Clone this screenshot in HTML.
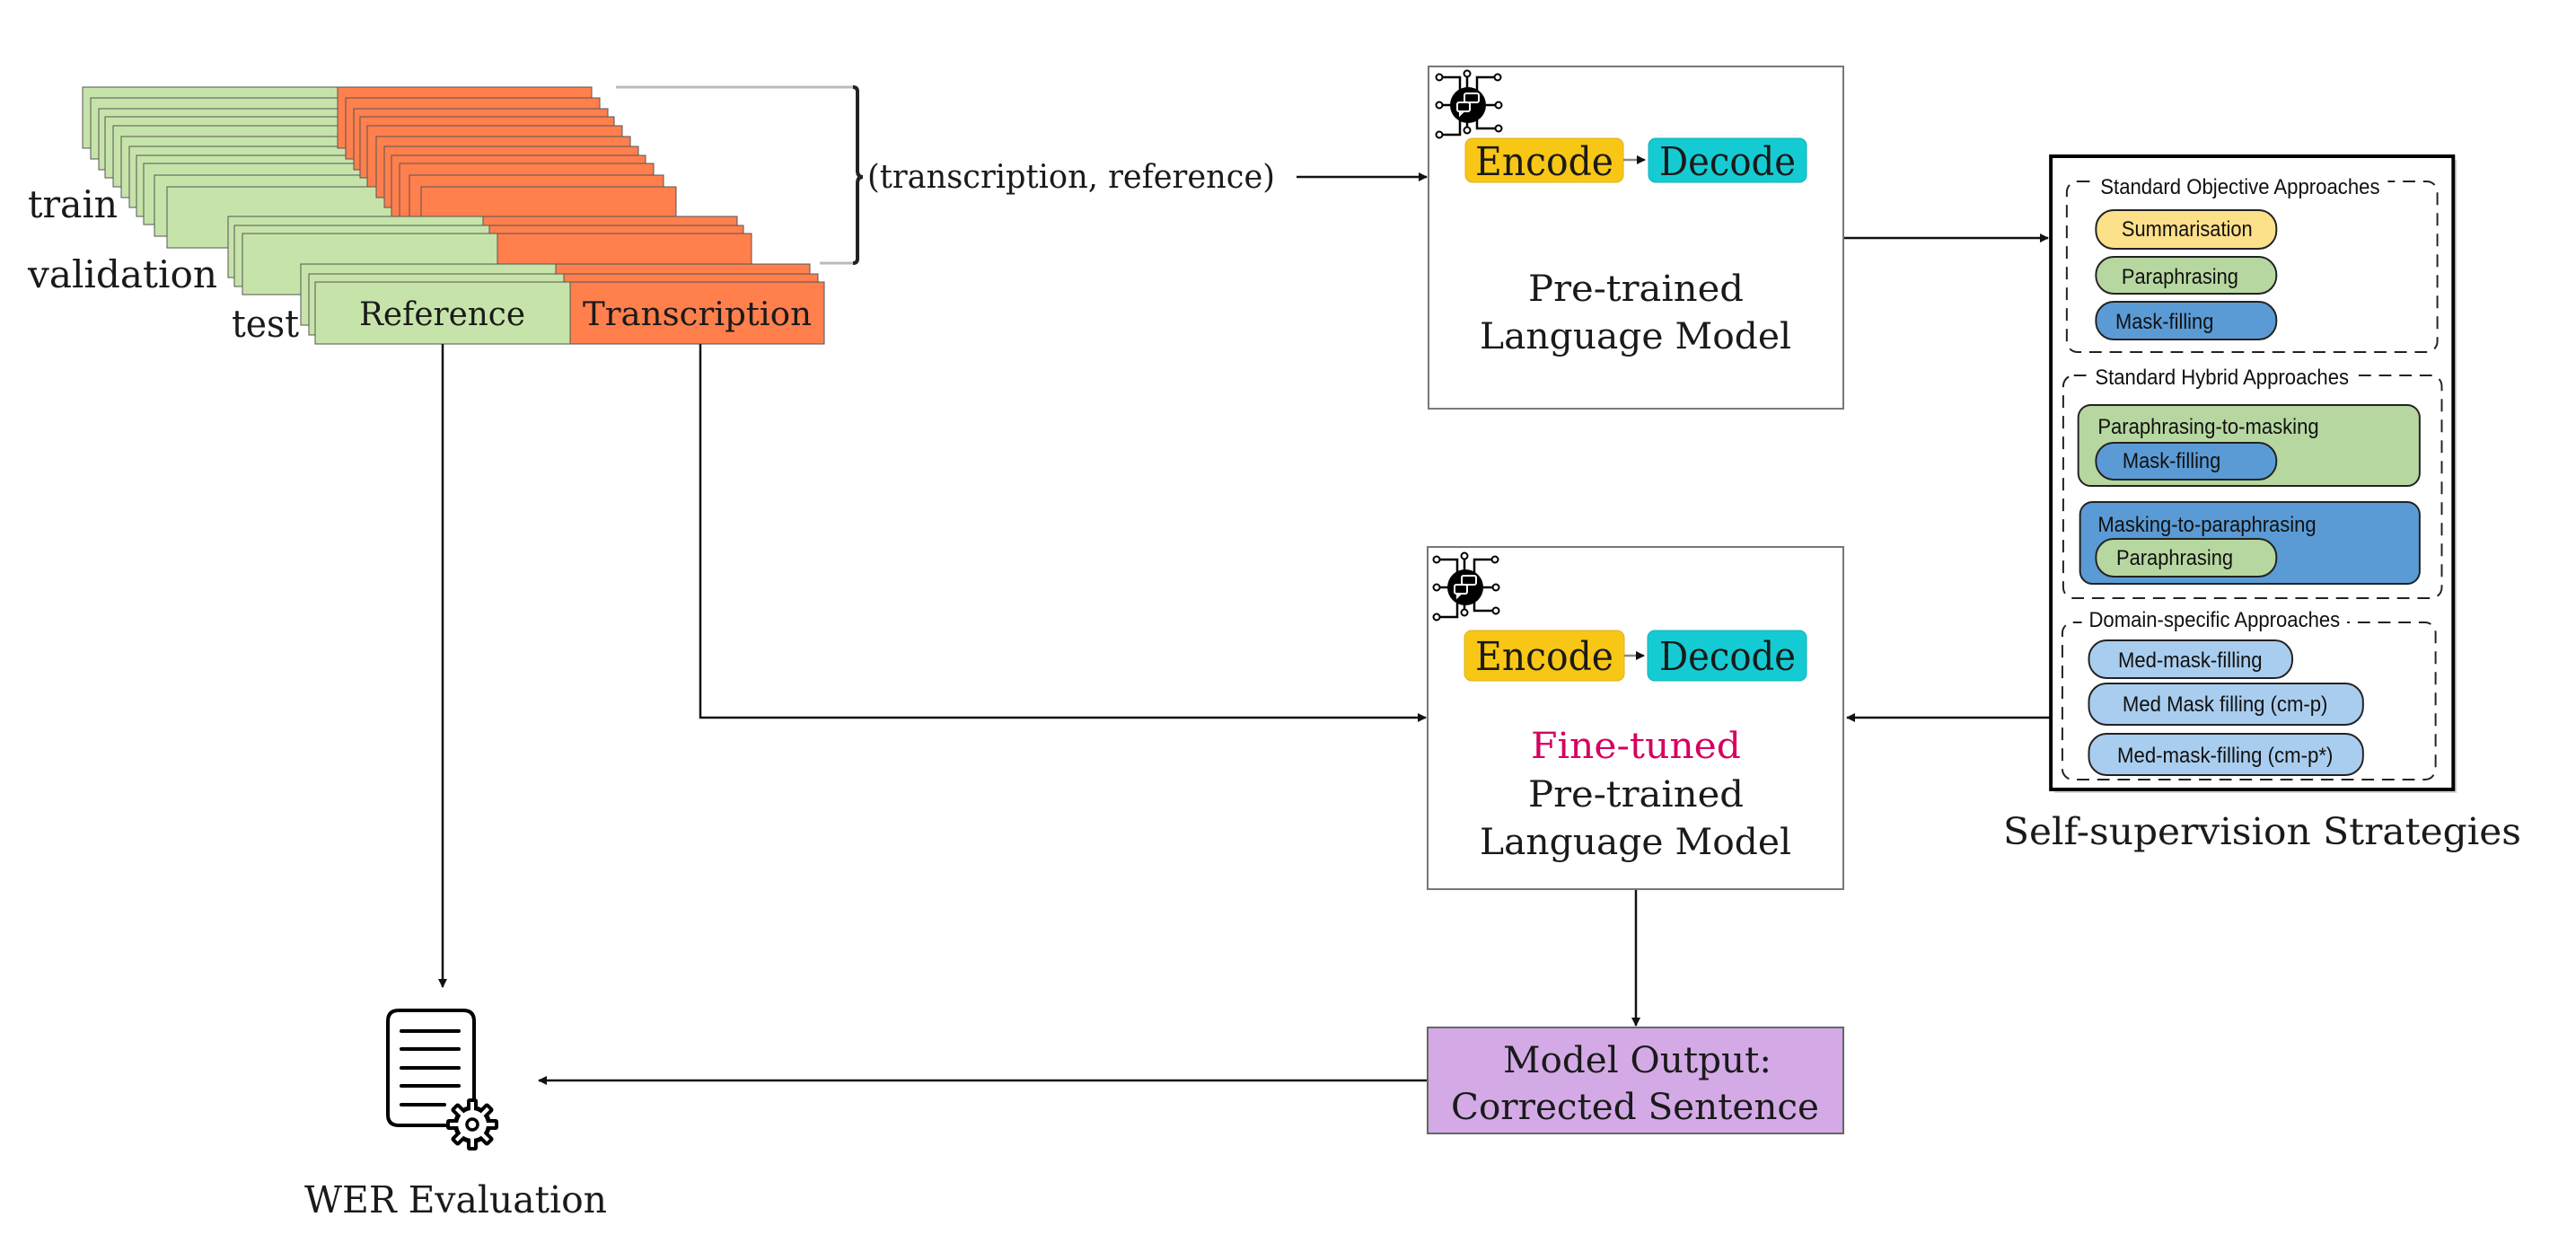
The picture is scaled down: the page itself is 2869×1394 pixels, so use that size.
<!DOCTYPE html>
<html><head><meta charset="utf-8"><style>html,body{margin:0;padding:0;background:#fff}svg{display:block}</style></head>
<body>
<svg width="2869" height="1394" viewBox="0 0 2869 1394" xmlns="http://www.w3.org/2000/svg">
<defs>
<marker id="ah" markerWidth="10" markerHeight="10" refX="9" refY="5" orient="auto" markerUnits="userSpaceOnUse"><path d="M0,0 L10,5 L0,10 z" fill="#111"/></marker>
<g id="icon">
 <g fill="none" stroke="#000" stroke-width="2.5">
  <path d="M1603,86 H1626 V105"/><path d="M1634,82 V100"/><path d="M1668,86 H1645 V105"/>
  <path d="M1603,117 H1616"/><path d="M1669,117 H1655"/>
  <path d="M1603,150 H1626 V130"/><path d="M1634,145 V135"/><path d="M1669,143 H1645 V130"/>
 </g>
 <g fill="#fff" stroke="#000" stroke-width="2">
  <circle cx="1603" cy="86" r="3.5"/><circle cx="1634" cy="82" r="3.5"/><circle cx="1668" cy="86" r="3.5"/>
  <circle cx="1603" cy="117" r="3.5"/><circle cx="1669" cy="117" r="3.5"/>
  <circle cx="1603" cy="150" r="3.5"/><circle cx="1634" cy="145" r="3.5"/><circle cx="1669" cy="143" r="3.5"/>
 </g>
 <circle cx="1635" cy="117" r="20" fill="#000"/>
 <g fill="none" stroke="#fff" stroke-width="2">
  <rect x="1631" y="104" width="16" height="10" rx="2"/><rect x="1623" y="114" width="14" height="10" rx="2"/>
  <path d="M1626,124 l0,4 l4,-4"/>
 </g>
</g>
</defs>

<!-- data stacks -->
<g stroke="#555" stroke-width="1" fill="#c6e4a9">
<rect x="92" y="97" width="284" height="68"/><rect x="101" y="109" width="284" height="68"/><rect x="110" y="121" width="284" height="68"/><rect x="117" y="130" width="284" height="68"/><rect x="126" y="140" width="284" height="68"/><rect x="135" y="152" width="284" height="68"/><rect x="144" y="163" width="284" height="68"/><rect x="152" y="173" width="284" height="68"/><rect x="160" y="182" width="284" height="68"/><rect x="172" y="195" width="284" height="68"/><rect x="186" y="208" width="284" height="68"/>
</g>
<g stroke="#555" stroke-width="1" fill="#ff7f4d">
<rect x="376" y="97" width="283" height="68"/><rect x="385" y="109" width="283" height="68"/><rect x="394" y="121" width="283" height="68"/><rect x="401" y="130" width="283" height="68"/><rect x="409" y="140" width="284" height="68"/><rect x="419" y="152" width="283" height="68"/><rect x="428" y="163" width="283" height="68"/><rect x="436" y="173" width="283" height="68"/><rect x="445" y="182" width="283" height="68"/><rect x="456" y="195" width="283" height="68"/><rect x="469" y="208" width="284" height="68"/>
</g>
<g stroke="#555" stroke-width="1">
<rect x="254" y="241" width="284" height="68" fill="#c6e4a9"/><rect x="538" y="241" width="283" height="68" fill="#ff7f4d"/>
<rect x="261" y="251" width="284" height="68" fill="#c6e4a9"/><rect x="545" y="251" width="283" height="68" fill="#ff7f4d"/>
<rect x="270" y="260" width="284" height="68" fill="#c6e4a9"/><rect x="554" y="260" width="283" height="68" fill="#ff7f4d"/>
<rect x="335" y="294" width="284" height="68" fill="#c6e4a9"/><rect x="619" y="294" width="283" height="68" fill="#ff7f4d"/>
<rect x="344" y="305" width="284" height="68" fill="#c6e4a9"/><rect x="628" y="305" width="283" height="68" fill="#ff7f4d"/>
<rect x="351" y="314" width="284" height="69" fill="#c6e4a9"/><rect x="635" y="314" width="283" height="69" fill="#ff7f4d"/>
</g>

<g font-family="DejaVu Serif, Liberation Serif, serif" fill="#1a1a1a">
<text x="31" y="242" font-size="42" textLength="100" lengthAdjust="spacingAndGlyphs">train</text>
<text x="31" y="320" font-size="42" textLength="211" lengthAdjust="spacingAndGlyphs">validation</text>
<text x="258" y="375" font-size="42" textLength="75" lengthAdjust="spacingAndGlyphs">test</text>
<text x="400" y="362" font-size="36" textLength="185" lengthAdjust="spacingAndGlyphs">Reference</text>
<text x="649" y="362" font-size="36" textLength="255" lengthAdjust="spacingAndGlyphs">Transcription</text>
<text x="966" y="209" font-size="36" textLength="454" lengthAdjust="spacingAndGlyphs">(transcription, reference)</text>
</g>

<!-- brace -->
<line x1="686" y1="97" x2="950" y2="97" stroke="#bbb" stroke-width="3"/>
<line x1="913" y1="293" x2="950" y2="293" stroke="#bbb" stroke-width="3"/>
<path d="M950,97 Q955,97 955,102 V190 Q955,197 961,197 Q955,197 955,204 V288 Q955,293 950,293" fill="none" stroke="#222" stroke-width="4"/>

<!-- arrows -->
<g stroke="#111" stroke-width="2.5" fill="none">
<line x1="1444" y1="197" x2="1589" y2="197" marker-end="url(#ah)"/>
<line x1="2053" y1="265" x2="2281" y2="265" marker-end="url(#ah)"/>
<path d="M780,383 V799 H1588" marker-end="url(#ah)"/>
<line x1="2284" y1="799" x2="2057" y2="799" marker-end="url(#ah)"/>
<line x1="493" y1="383" x2="493" y2="1099" marker-end="url(#ah)"/>
<line x1="1822" y1="990" x2="1822" y2="1142" marker-end="url(#ah)"/>
<line x1="1590" y1="1203" x2="600" y2="1203" marker-end="url(#ah)"/>
</g>

<!-- pre-trained box -->
<rect x="1591" y="74" width="462" height="381" fill="#fff" stroke="#777" stroke-width="2"/>
<use href="#icon"/>
<rect x="1632" y="154" width="176" height="49" rx="8" fill="#f8c614" stroke="#e0b020"/>
<rect x="1836" y="154" width="176" height="49" rx="8" fill="#15cbd3" stroke="#10b0b8"/>
<line x1="1808" y1="178" x2="1832" y2="178" stroke="#888" stroke-width="2.5" marker-end="url(#ah)"/>
<g font-family="DejaVu Serif, Liberation Serif, serif" fill="#1a1a1a">
<text x="1643" y="195" font-size="44" textLength="154" lengthAdjust="spacingAndGlyphs">Encode</text>
<text x="1848" y="195" font-size="44" textLength="152" lengthAdjust="spacingAndGlyphs">Decode</text>
<text x="1702" y="335" font-size="40" textLength="240" lengthAdjust="spacingAndGlyphs">Pre-trained</text>
<text x="1648" y="388" font-size="40" textLength="347" lengthAdjust="spacingAndGlyphs">Language Model</text>
</g>

<!-- fine-tuned box -->
<rect x="1590" y="609" width="463" height="381" fill="#fff" stroke="#777" stroke-width="2"/>
<use href="#icon" transform="translate(-3,537)"/>
<rect x="1631" y="702" width="178" height="56" rx="8" fill="#f8c614" stroke="#e0b020"/>
<rect x="1835" y="702" width="177" height="56" rx="8" fill="#15cbd3" stroke="#10b0b8"/>
<line x1="1809" y1="730" x2="1831" y2="730" stroke="#888" stroke-width="2.5" marker-end="url(#ah)"/>
<g font-family="DejaVu Serif, Liberation Serif, serif" fill="#1a1a1a">
<text x="1643" y="746" font-size="44" textLength="154" lengthAdjust="spacingAndGlyphs">Encode</text>
<text x="1848" y="746" font-size="44" textLength="152" lengthAdjust="spacingAndGlyphs">Decode</text>
<text x="1705" y="844" font-size="40" textLength="234" lengthAdjust="spacingAndGlyphs" fill="#d6005f">Fine-tuned</text>
<text x="1702" y="898" font-size="40" textLength="240" lengthAdjust="spacingAndGlyphs">Pre-trained</text>
<text x="1648" y="951" font-size="40" textLength="347" lengthAdjust="spacingAndGlyphs">Language Model</text>
</g>

<!-- model output -->
<rect x="1590" y="1144" width="463" height="118" fill="#d3aae6" stroke="#666" stroke-width="2"/>
<g font-family="DejaVu Serif, Liberation Serif, serif" fill="#1a1a1a">
<text x="1674" y="1194" font-size="40" textLength="299" lengthAdjust="spacingAndGlyphs">Model Output:</text>
<text x="1616" y="1246" font-size="40" textLength="410" lengthAdjust="spacingAndGlyphs">Corrected Sentence</text>
<text x="339" y="1350" font-size="41" textLength="337" lengthAdjust="spacingAndGlyphs">WER Evaluation</text>
<text x="2231" y="940" font-size="41" textLength="577" lengthAdjust="spacingAndGlyphs">Self-supervision Strategies</text>
</g>

<!-- WER icon -->
<g fill="none" stroke="#000" stroke-width="4" stroke-linecap="round">
<path d="M505,1253 H444 Q432,1253 432,1241 V1137 Q432,1125 444,1125 H516 Q528,1125 528,1137 V1228"/>
<line x1="447" y1="1148" x2="511" y2="1148"/><line x1="447" y1="1168" x2="511" y2="1168"/><line x1="447" y1="1189" x2="511" y2="1189"/><line x1="447" y1="1209" x2="511" y2="1209"/><line x1="447" y1="1230" x2="495" y2="1230"/>
</g>
<g transform="translate(526,1252)">
 <g fill="#000">
  <circle r="21"/>
  <rect x="-6" y="-29" width="12" height="58" rx="3"/>
  <rect x="-6" y="-29" width="12" height="58" rx="3" transform="rotate(45)"/>
  <rect x="-6" y="-29" width="12" height="58" rx="3" transform="rotate(90)"/>
  <rect x="-6" y="-29" width="12" height="58" rx="3" transform="rotate(135)"/>
 </g>
 <g fill="#fff">
  <circle r="16"/>
  <rect x="-2" y="-25" width="4" height="50"/>
  <rect x="-2" y="-25" width="4" height="50" transform="rotate(45)"/>
  <rect x="-2" y="-25" width="4" height="50" transform="rotate(90)"/>
  <rect x="-2" y="-25" width="4" height="50" transform="rotate(135)"/>
 </g>
 <circle r="6" fill="#fff" stroke="#000" stroke-width="3.5"/>
</g>

<!-- right panel -->
<g transform="translate(2293,0) scale(0.985,1) translate(-2293,0) translate(-9,0)">
<rect x="2297" y="178" width="455" height="705" fill="#bbb" opacity="0.6"/>
<rect x="2293" y="174" width="455" height="705" fill="#fff" stroke="#000" stroke-width="4"/>
<g fill="none" stroke="#222" stroke-width="2" stroke-dasharray="14,9">
<rect x="2311" y="202" width="419" height="190" rx="12"/>
<rect x="2307" y="418" width="428" height="248" rx="12"/>
<rect x="2306" y="693" width="422" height="175" rx="12"/>
</g>
<g fill="#fff">
<rect x="2340" y="198" width="334" height="9"/>
<rect x="2334" y="414" width="305" height="9"/>
<rect x="2328" y="689" width="300" height="9"/>
</g>
<g stroke="#222" stroke-width="2">
<rect x="2344" y="234" width="204" height="43" rx="20" fill="#fde08a"/>
<rect x="2344" y="286" width="204" height="41" rx="20" fill="#b7d7a0"/>
<rect x="2344" y="336" width="204" height="42" rx="20" fill="#5b9bd5"/>
<rect x="2324" y="451" width="386" height="90" rx="14" fill="#b7d7a0"/>
<rect x="2344" y="493" width="204" height="41" rx="20" fill="#5b9bd5"/>
<rect x="2326" y="559" width="384" height="91" rx="14" fill="#5b9bd5"/>
<rect x="2344" y="600" width="204" height="42" rx="20" fill="#b7d7a0"/>
<rect x="2336" y="713" width="230" height="42" rx="20" fill="#a9cdee"/>
<rect x="2336" y="761" width="310" height="46" rx="20" fill="#a9cdee"/>
<rect x="2336" y="817" width="310" height="46" rx="20" fill="#a9cdee"/>
</g>
<g font-family="Liberation Sans, Arial, sans-serif" fill="#111" font-size="24">
<text x="2349" y="216" textLength="316" lengthAdjust="spacingAndGlyphs">Standard Objective Approaches</text>
<text x="2373" y="263" textLength="148" lengthAdjust="spacingAndGlyphs">Summarisation</text>
<text x="2373" y="316" textLength="132" lengthAdjust="spacingAndGlyphs">Paraphrasing</text>
<text x="2366" y="366" textLength="111" lengthAdjust="spacingAndGlyphs">Mask-filling</text>
<text x="2343" y="428" textLength="287" lengthAdjust="spacingAndGlyphs">Standard Hybrid Approaches</text>
<text x="2346" y="483" textLength="250" lengthAdjust="spacingAndGlyphs">Paraphrasing-to-masking</text>
<text x="2374" y="521" textLength="111" lengthAdjust="spacingAndGlyphs">Mask-filling</text>
<text x="2346" y="592" textLength="247" lengthAdjust="spacingAndGlyphs">Masking-to-paraphrasing</text>
<text x="2367" y="629" textLength="132" lengthAdjust="spacingAndGlyphs">Paraphrasing</text>
<text x="2336" y="698" textLength="284" lengthAdjust="spacingAndGlyphs">Domain-specific Approaches</text>
<text x="2369" y="743" textLength="163" lengthAdjust="spacingAndGlyphs">Med-mask-filling</text>
<text x="2374" y="792" textLength="232" lengthAdjust="spacingAndGlyphs">Med Mask filling (cm-p)</text>
<text x="2368" y="849" textLength="244" lengthAdjust="spacingAndGlyphs">Med-mask-filling (cm-p*)</text>
</g>
</g>
</svg>
</body></html>
